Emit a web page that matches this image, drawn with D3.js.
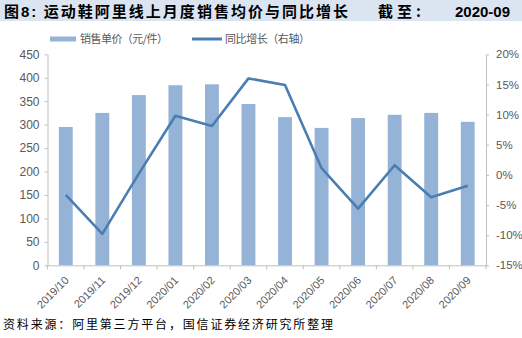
<!DOCTYPE html>
<html>
<head>
<meta charset="utf-8">
<script src="https://cdn.jsdelivr.net/npm/d3@7"></script>
<style>
  html, body { margin: 0; padding: 0; background: #fff; }
  svg { display: block; }
</style>
</head>
<body>
<svg id="chart" width="522" height="338"></svg>
<script>
// Monthly sneaker data on Alibaba platforms
const months = ["2019/10","2019/11","2019/12","2020/01","2020/02","2020/03",
                "2020/04","2020/05","2020/06","2020/07","2020/08","2020/09"];
const avgPrice = [295, 325, 363, 384, 386, 344, 316, 293, 314, 321, 325, 306];   // 元/件
const yoyGrowth = [-3.3, -9.8, 0.2, 9.8, 8.1, 16.0, 14.9, 1.1, -5.6, 1.6, -3.7, -1.8]; // %
const leftTicks = [0, 50, 100, 150, 200, 250, 300, 350, 400, 450];
const rightTicks = [-15, -10, -5, 0, 5, 10, 15, 20];

const svg = d3.select("#chart");
const W = 522, H = 338;
const plot = { left: 47.5, right: 486, top: 54.3, bottom: 265.3 };

const barColor = "#95b3d7";
const lineColor = "#4a7eb3";
const axisColor = "#bfbfbf";
const labelColor = "#595959";
const latin = "Arial, 'Liberation Sans', sans-serif";
const cjk = "'Noto Sans CJK SC', sans-serif";

svg.append("rect").attr("width", W).attr("height", H).attr("fill", "#fff");

// Title banner
svg.append("rect").attr("x", 0).attr("y", 0).attr("width", W).attr("height", 21)
  .attr("fill", "#dbe5f1");
const title = svg.append("text").attr("x", 4).attr("y", 16.5)
  .attr("font-size", 15).attr("font-weight", "bold").attr("fill", "#000")
  .attr("font-family", cjk)
  .attr("textLength", 344).attr("lengthAdjust", "spacing");
title.append("tspan").text("图");
title.append("tspan").attr("font-family", latin).text("8:");
title.append("tspan").text(" 运动鞋阿里线上月度销售均价与同比增长");
svg.append("text").attr("x", 378).attr("y", 16.5)
  .attr("font-size", 15).attr("font-weight", "bold").attr("font-family", cjk)
  .attr("letter-spacing", 4)
  .text("截至:");
svg.append("text").attr("x", 455).attr("y", 16.5)
  .attr("font-size", 15).attr("font-weight", "bold").attr("font-family", latin)
  .text("2020-09");

// Scales
const x = d3.scaleBand().domain(months).range([plot.left, plot.right])
  .paddingInner(0.62).paddingOuter(0.31);
const y = d3.scaleLinear().domain([0, 450]).range([plot.bottom, plot.top]);
const y2 = d3.scaleLinear().domain([-15, 20]).range([plot.bottom, plot.top]);

// Bars
svg.append("g").selectAll("rect").data(months).join("rect")
  .attr("x", d => x(d))
  .attr("width", x.bandwidth())
  .attr("y", (d, i) => y(avgPrice[i]))
  .attr("height", (d, i) => y(0) - y(avgPrice[i]))
  .attr("fill", barColor);

// Growth line
const line = d3.line()
  .x((d, i) => x(months[i]) + x.bandwidth() / 2)
  .y(d => y2(d));
svg.append("path").datum(yoyGrowth)
  .attr("d", line)
  .attr("fill", "none")
  .attr("stroke", lineColor)
  .attr("stroke-width", 2.6)
  .attr("stroke-linejoin", "round");

// Left axis
const gL = svg.append("g").attr("transform", `translate(${plot.left},0)`)
  .call(d3.axisLeft(y).tickValues(leftTicks).tickSize(3).tickSizeOuter(0).tickPadding(5));
// Right axis
const gR = svg.append("g").attr("transform", `translate(${plot.right},0)`)
  .call(d3.axisRight(y2).tickValues(rightTicks).tickSize(3).tickSizeOuter(0).tickPadding(7)
    .tickFormat(d => d + "%"));
// Bottom axis with ticks at category boundaries
const gB = svg.append("g").attr("transform", `translate(0,${plot.bottom})`)
  .call(d3.axisBottom(x).tickSize(0).tickSizeOuter(0).tickFormat(""));
const step = x.step();
const bounds = d3.range(months.length + 1).map(i => plot.left + i * step);
gB.selectAll("line.bound").data(bounds).join("line").attr("class", "bound")
  .attr("x1", d => d).attr("x2", d => d).attr("y1", 0).attr("y2", 4)
  .attr("stroke", axisColor);

[gL, gR, gB].forEach(g => {
  g.selectAll("path.domain").attr("stroke", axisColor);
  g.selectAll(".tick line").attr("stroke", axisColor);
  g.selectAll(".tick text").attr("fill", labelColor)
    .attr("font-family", latin).attr("font-size", 12);
});
gR.selectAll(".tick text").attr("font-size", 11.5);

// Rotated month labels
svg.append("g").selectAll("text").data(months).join("text")
  .attr("transform", d => `translate(${x(d) + x.bandwidth() / 2 + 1},${plot.bottom + 13}) rotate(-45)`)
  .attr("text-anchor", "end")
  .attr("dy", "0.35em")
  .attr("font-family", latin).attr("font-size", 11).attr("fill", labelColor)
  .text(d => d);

// Legend
const lg = svg.append("g");
lg.append("rect").attr("x", 50).attr("y", 36.5).attr("width", 26).attr("height", 5).attr("fill", barColor);
lg.append("text").attr("x", 80).attr("y", 43).attr("font-family", cjk).attr("font-size", 11)
  .attr("fill", labelColor).attr("textLength", 88).attr("lengthAdjust", "spacing")
  .text("销售单价（元/件）");
lg.append("line").attr("x1", 192).attr("x2", 222).attr("y1", 39).attr("y2", 39)
  .attr("stroke", lineColor).attr("stroke-width", 3);
lg.append("text").attr("x", 225).attr("y", 43).attr("font-family", cjk).attr("font-size", 11)
  .attr("fill", labelColor).attr("textLength", 85).attr("lengthAdjust", "spacing")
  .text("同比增长（右轴）");

// Source note
svg.append("text").attr("x", 3).attr("y", 329).attr("font-family", cjk).attr("font-size", 12)
  .attr("fill", "#000").attr("textLength", 330).attr("lengthAdjust", "spacing")
  .text("资料来源：阿里第三方平台，国信证券经济研究所整理");
</script>
</body>
</html>
